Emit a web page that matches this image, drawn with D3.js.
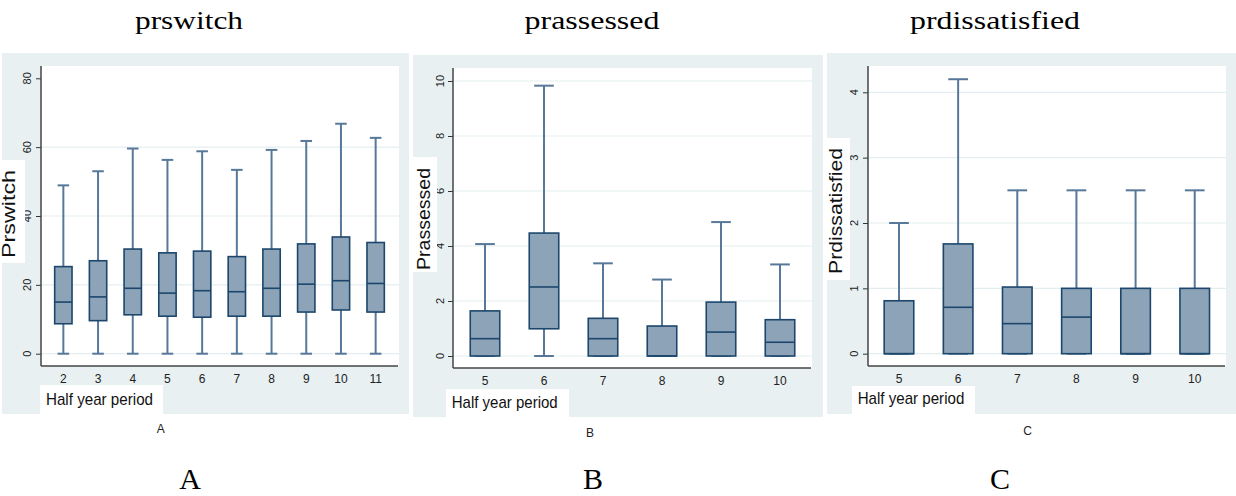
<!DOCTYPE html>
<html>
<head>
<meta charset="utf-8">
<script src="https://cdn.jsdelivr.net/npm/d3@7"></script>
<style>
  html, body { margin: 0; padding: 0; background: #ffffff; }
  svg { display: block; }
</style>
</head>
<body>
<svg id="chart" width="1236" height="496"></svg>
<script>
// ---------- DATA ----------
const titles = ["prswitch", "prassessed", "prdissatisfied"];
const yTitles = ["Prswitch", "Prassessed", "Prdissatisfied"];
const xTitle = "Half year period";
const captions = ["A", "B", "C"];

const catsA = ["2", "3", "4", "5", "6", "7", "8", "9", "10", "11"];
const loA  = [0, 0, 0, 0, 0, 0, 0, 0, 0, 0];
const q1A  = [8.7, 9.6, 11.3, 10.9, 10.6, 10.9, 10.9, 12.1, 12.7, 12.1];
const medA = [15.0, 16.5, 19.0, 17.6, 18.3, 18.0, 19.0, 20.2, 21.2, 20.4];
const q3A  = [25.3, 27.0, 30.4, 29.3, 29.8, 28.2, 30.4, 31.9, 33.9, 32.3];
const hiA  = [48.9, 53.0, 59.6, 56.3, 58.8, 53.4, 59.2, 61.8, 66.8, 62.7];
const ticksA = [0, 20, 40, 60, 80];

const catsB = ["5", "6", "7", "8", "9", "10"];
const loB  = [0, 0, 0, 0, 0, 0];
const q1B  = [0, 0.99, 0, 0, 0, 0];
const medB = [0.63, 2.51, 0.63, 0, 0.87, 0.50];
const q3B  = [1.64, 4.47, 1.37, 1.09, 1.96, 1.32];
const hiB  = [4.07, 9.83, 3.37, 2.78, 4.87, 3.33];
const ticksB = [0, 2, 4, 6, 8, 10];

const catsC = ["5", "6", "7", "8", "9", "10"];
const loC  = [0, 0, 0, 0, 0, 0];
const q1C  = [0, 0, 0, 0, 0, 0];
const medC = [0, 0.71, 0.46, 0.56, 0, 0];
const q3C  = [0.81, 1.68, 1.02, 1.00, 1.00, 1.00];
const hiC  = [2.00, 4.20, 2.50, 2.50, 2.50, 2.50];
const ticksC = [0, 1, 2, 3, 4];

// ---------- LAYOUT ----------
const panels = [
  { cats: catsA, lo: loA, q1: q1A, med: medA, q3: q3A, hi: hiA, ticks: ticksA,
    bg: [2, 53, 409, 414], plot: [41, 66, 399, 366], y0: 353.7, yTop: 78.3, yMax: 80,
    xr: [46, 393], noTopGrid: true,
    title: { x: 189, y: 29, len: 108 },
    ybox: [2, 160, 25, 263], yt: { x: 15, y: 214, len: 88 },
    xbox: [40, 385, 163, 414], xt: { x: 46, y: 404.5, len: 107 },
    ylab: 31, xlab: 383.3,
    cap: { x: 160.7, y: 433 }, big: { x: 190, y: 489 } },
  { cats: catsB, lo: loB, q1: q1B, med: medB, q3: q3B, hi: hiB, ticks: ticksB,
    bg: [413, 55, 823, 417], plot: [453, 68, 812, 368], y0: 356, yTop: 81, yMax: 10,
    xr: [455.5, 809.5],
    title: { x: 592, y: 29, len: 135 },
    ybox: [413, 157, 437, 272], yt: { x: 430, y: 219, len: 102 },
    xbox: [446, 389, 569, 417], xt: { x: 451.7, y: 408.3, len: 106 },
    ylab: 444, xlab: 385,
    cap: { x: 590, y: 436.7 }, big: { x: 593, y: 489 } },
  { cats: catsC, lo: loC, q1: q1C, med: medC, q3: q3C, hi: hiC, ticks: ticksC,
    bg: [827, 53, 1236, 414], plot: [868, 66, 1226, 366], y0: 353.7, yTop: 92.3, yMax: 4,
    xr: [869.4, 1224.3],
    title: { x: 995, y: 29, len: 170 },
    ybox: [827, 138, 850, 280], yt: { x: 842, y: 211, len: 126 },
    xbox: [852, 386, 975, 414], xt: { x: 857.7, y: 404.3, len: 106.6 },
    ylab: 858, xlab: 382.7,
    cap: { x: 1027.7, y: 435 }, big: { x: 1000, y: 489 } }
];

const BG = "#e8f0f2", GRID = "#e4eef0", FILL = "#8da3b8", EDGE = "#1c466c", WHISK = "#58789a";
const sans = "'Liberation Sans', Arial, sans-serif";
const serif = "'Liberation Serif', 'Times New Roman', serif";

const svg = d3.select("#chart");

panels.forEach((p, pi) => {
  const g = svg.append("g");
  // background
  g.append("rect").attr("x", p.bg[0]).attr("y", p.bg[1])
    .attr("width", p.bg[2] - p.bg[0]).attr("height", p.bg[3] - p.bg[1]).attr("fill", BG);
  g.append("rect").attr("x", p.plot[0]).attr("y", p.plot[1])
    .attr("width", p.plot[2] - p.plot[0]).attr("height", p.plot[3] - p.plot[1]).attr("fill", "#fff");

  const y = d3.scaleLinear().domain([0, p.yMax]).range([p.y0, p.yTop]);
  const x = d3.scalePoint().domain(p.cats).range(p.xr).padding(0.5);
  const step = x.step();
  const bw = step / 2, cw = step / 3;

  // gridlines
  g.append("g").selectAll("line").data(p.ticks.filter(t => !(p.noTopGrid && t === p.yMax)))
    .join("line")
    .attr("x1", p.plot[0]).attr("x2", p.plot[2])
    .attr("y1", d => y(d)).attr("y2", d => y(d))
    .attr("stroke", GRID).attr("stroke-width", 1.2);

  const rows = p.cats.map((c, i) => ({ c, lo: p.lo[i], q1: p.q1[i], med: p.med[i], q3: p.q3[i], hi: p.hi[i] }));
  const bx = g.append("g").selectAll("g").data(rows).join("g");
  // upper whisker
  bx.append("line").attr("x1", d => x(d.c)).attr("x2", d => x(d.c))
    .attr("y1", d => y(d.q3)).attr("y2", d => y(d.hi)).attr("stroke", WHISK).attr("stroke-width", 2);
  bx.append("line").attr("x1", d => x(d.c) - cw / 2).attr("x2", d => x(d.c) + cw / 2)
    .attr("y1", d => y(d.hi)).attr("y2", d => y(d.hi)).attr("stroke", WHISK).attr("stroke-width", 2);
  // lower whisker
  bx.append("line").attr("x1", d => x(d.c)).attr("x2", d => x(d.c))
    .attr("y1", d => y(d.q1)).attr("y2", d => y(d.lo)).attr("stroke", WHISK).attr("stroke-width", 2);
  bx.append("line").attr("x1", d => x(d.c) - cw / 2).attr("x2", d => x(d.c) + cw / 2)
    .attr("y1", d => y(d.lo)).attr("y2", d => y(d.lo)).attr("stroke", WHISK).attr("stroke-width", 2);
  // box
  bx.append("rect").attr("x", d => x(d.c) - bw / 2).attr("width", bw)
    .attr("y", d => y(d.q3)).attr("height", d => y(d.q1) - y(d.q3))
    .attr("fill", FILL).attr("stroke", EDGE).attr("stroke-width", 1.6);
  // median
  bx.append("line").attr("x1", d => x(d.c) - bw / 2).attr("x2", d => x(d.c) + bw / 2)
    .attr("y1", d => y(d.med)).attr("y2", d => y(d.med)).attr("stroke", EDGE).attr("stroke-width", 1.6);

  // y axis
  const yAxis = d3.axisLeft(y).tickValues(p.ticks).tickSize(5).tickFormat(d3.format("d"));
  const ya = g.append("g").attr("transform", `translate(${p.plot[0]},0)`).call(yAxis);
  ya.select(".domain").remove();
  ya.selectAll(".tick line").attr("stroke", "#333").attr("stroke-width", 1);
  ya.selectAll(".tick text").remove();
  g.append("line").attr("x1", p.plot[0]).attr("x2", p.plot[0]).attr("y1", p.plot[1]).attr("y2", p.plot[3])
    .attr("stroke", "#444").attr("stroke-width", 1.5);
  g.append("g").selectAll("text").data(p.ticks).join("text")
    .attr("transform", d => `translate(${p.ylab},${y(d)}) rotate(-90)`)
    .attr("text-anchor", "middle")
    .attr("font-family", sans).attr("font-size", 11).attr("fill", "#222")
    .text(d3.format("d"));

  // x axis
  const xAxis = d3.axisBottom(x).tickSize(0);
  const xa = g.append("g").attr("transform", `translate(0,${p.plot[3]})`).call(xAxis);
  xa.select(".domain").remove();
  xa.selectAll(".tick text").remove();
  g.append("line").attr("x1", p.plot[0]).attr("x2", p.plot[2] - 1).attr("y1", p.plot[3]).attr("y2", p.plot[3])
    .attr("stroke", "#444").attr("stroke-width", 1.5);
  g.append("g").selectAll("text").data(p.cats).join("text")
    .attr("x", d => x(d)).attr("y", p.xlab)
    .attr("text-anchor", "middle")
    .attr("font-family", sans).attr("font-size", 12).attr("fill", "#222")
    .text(d => d);

  // y title box
  g.append("rect").attr("x", p.ybox[0]).attr("y", p.ybox[1])
    .attr("width", p.ybox[2] - p.ybox[0]).attr("height", p.ybox[3] - p.ybox[1]).attr("fill", "#fff");
  g.append("text").attr("transform", `translate(${p.yt.x},${p.yt.y}) rotate(-90)`)
    .attr("text-anchor", "middle")
    .attr("font-family", sans).attr("font-size", 18).attr("fill", "#111")
    .attr("textLength", p.yt.len).attr("lengthAdjust", "spacingAndGlyphs")
    .text(yTitles[pi]);

  // x title box
  g.append("rect").attr("x", p.xbox[0]).attr("y", p.xbox[1])
    .attr("width", p.xbox[2] - p.xbox[0]).attr("height", p.xbox[3] - p.xbox[1]).attr("fill", "#fff");
  g.append("text").attr("x", p.xt.x).attr("y", p.xt.y)
    .attr("font-family", sans).attr("font-size", 17).attr("fill", "#111")
    .attr("textLength", p.xt.len).attr("lengthAdjust", "spacingAndGlyphs")
    .text(xTitle);

  // small caption
  g.append("text").attr("x", p.cap.x).attr("y", p.cap.y).attr("text-anchor", "middle")
    .attr("font-family", sans).attr("font-size", 12).attr("fill", "#222").text(captions[pi]);

  // panel title
  g.append("text").attr("x", p.title.x).attr("y", p.title.y).attr("text-anchor", "middle")
    .attr("font-family", serif).attr("font-size", 26).attr("fill", "#000")
    .attr("textLength", p.title.len).attr("lengthAdjust", "spacingAndGlyphs")
    .text(titles[pi]);

  // big letter
  g.append("text").attr("x", p.big.x).attr("y", p.big.y).attr("text-anchor", "middle")
    .attr("font-family", serif).attr("font-size", 30).attr("fill", "#000").text(captions[pi]);
});
</script>
</body>
</html>
